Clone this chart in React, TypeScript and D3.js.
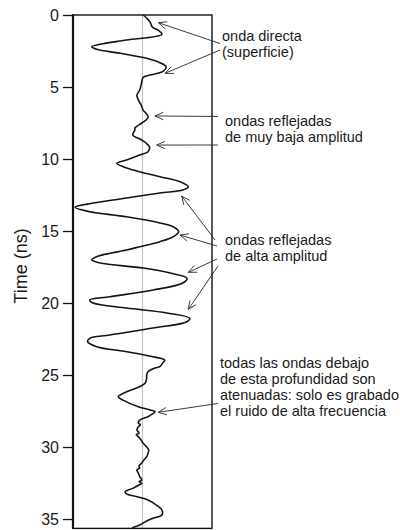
import React from "react";
import * as d3 from "d3";

// GPR trace: two-way travel time (ns) and relative amplitude
const TIME = [
  0.0, 0.21, 0.49, 0.83, 1.04, 1.34, 1.74, 2.03, 2.2, 2.38, 2.66, 3.01, 3.31, 3.59, 3.89, 4.17, 4.33, 4.63,
  5.21, 5.56, 5.9, 6.25, 6.6, 6.88, 7.08, 7.29, 7.5, 7.85, 7.99, 8.33, 8.68, 8.89, 9.15, 9.49, 9.72,
  10.07, 10.3, 10.53, 10.88, 11.23, 11.58, 11.92, 12.15, 12.36, 12.71, 13.06, 13.35, 13.66, 14.01, 14.44,
  14.7, 15.05, 15.4, 15.74, 16.09, 16.32, 16.78, 17.01, 17.22, 17.57, 17.92, 18.28, 18.61, 19.1, 19.56,
  19.79, 20.0, 20.35, 20.69, 21.06, 21.3, 21.74, 22.22, 22.45, 22.69, 23.03, 23.38, 23.73, 23.96, 24.17,
  24.42, 24.51, 24.77, 25.0, 25.21, 25.56, 25.81, 26.16, 26.51, 26.74, 27.2, 27.43, 27.55, 27.71, 27.9,
  28.13, 28.33, 28.46, 28.59, 28.82, 29.03, 29.15, 29.28, 29.51, 29.74, 30.0, 30.21, 30.42, 30.67, 30.9,
  31.11, 31.32, 31.46, 31.6, 31.81, 32.06, 32.29, 32.4, 32.52, 32.64, 32.87, 33.1, 33.26, 33.45, 33.68,
  34.03, 34.38, 34.72, 34.95, 35.19, 35.42, 35.6,
];
const AMPLITUDE = [
  1, 6, 11, 14, 22, 28, -23, -61, -73, -66, -32, 6, 25, 34, 30, 11, 1, -1,
  -4, -8, -6, -2, 1, 6, 8, 5, -1, -11, -11, -14, -1, 5, 10, 8, -4,
  -23, -37, -28, -4, 25, 54, 66, 58, 25, -23, -71, -97, -76, -23, 25,
  44, 52, 44, 25, -4, -23, -66, -73, -61, 1, 40, 64, 58, 15, -47,
  -76, -71, -23, 35, 68, 64, 15, -47, -76, -79, -66, -23, 15, 32, 29,
  25, 18, 8, 6, 6, 4, -4, -23, -35, -28, -6, 11, 18, 14, 8,
  -4, -6, -3, -6, -8, -5, -9, -6, -2, 1, 6, 9, 8, 6, 2,
  -1, -5, -4, -8, -6, -4, -1, -5, -1, -5, -14, -25, -23, -8, 8,
  20, 28, 28, 15, 4, -4, -15,
];

const TICKS = [0, 5, 10, 15, 20, 25, 30, 35];
const AXIS_TITLE = "Time (ns)";

// Callouts: label lines, and the trace points (time, amplitude) each arrow points to
const NOTE_LINES = [
  ["onda directa", "(superficie)"],
  ["ondas reflejadas", "de muy baja amplitud"],
  ["ondas reflejadas", "de alta amplitud"],
  [
    "todas las ondas debajo",
    "de esta profundidad son",
    "atenuadas: solo es grabado",
    "el ruido de alta frecuencia",
  ],
];
const NOTE_TARGET_TIME = [
  [0.53, 4.05],
  [7.01, 9.03],
  [12.57, 15.28, 17.87, 20.44],
  [27.59],
];
const NOTE_TARGET_AMP = [
  [22.7, 32.4],
  [18, 20.4],
  [56.4, 54, 65.9, 65.9],
  [22.7],
];

const W = 400;
const H = 530;
const FONT = "'Liberation Sans', Arial, Helvetica, sans-serif";

// text placement and arrow tails for each callout
const NOTE_X = [222, 225, 225, 220];
const NOTE_Y = [41, 126, 245, 368];
const NOTE_TAILS = [
  [[220, 43.5], [220, 50]],
  [[218, 116.5], [218, 145]],
  [[215, 240], [217, 246], [217, 259], [218, 266]],
  [[218, 403.5]],
];

function Arrow({ x1, y1, x2, y2 }: { x1: number; y1: number; x2: number; y2: number }) {
  const ang = Math.atan2(y2 - y1, x2 - x1);
  const len = 9;
  const spread = (24 * Math.PI) / 180;
  const a1 = ang + Math.PI - spread;
  const a2 = ang + Math.PI + spread;
  const head = `M${x2 + len * Math.cos(a1)},${y2 + len * Math.sin(a1)}L${x2},${y2}L${
    x2 + len * Math.cos(a2)
  },${y2 + len * Math.sin(a2)}`;
  return (
    <g stroke="#3a3a3a" strokeWidth={1} fill="none">
      <line x1={x1} y1={y1} x2={x2} y2={y2} />
      <path d={head} />
    </g>
  );
}

export default function App() {
  const left = 73;
  const right = 212;
  const top = 15;
  const bottom = 528.4;

  const y = d3.scaleLinear().domain([0, 35.65]).range([top, bottom]);
  const x = d3.scaleLinear().domain([-100, 100]).range([left, right]);

  const points: [number, number][] = TIME.map((t, i) => [t, AMPLITUDE[i]]);
  const trace = d3
    .line<[number, number]>()
    .x((d) => x(d[1]))
    .y((d) => y(d[0]))
    .curve(d3.curveCatmullRom.alpha(0.5))(points) as string;

  const axisRef = React.useRef<SVGGElement>(null);
  React.useEffect(() => {
    if (!axisRef.current) return;
    const g = d3.select(axisRef.current);
    g.call(
      d3
        .axisLeft(y)
        .tickValues(TICKS)
        .tickSize(10)
        .tickSizeOuter(0)
        .tickPadding(4)
        .tickFormat(d3.format("d"))
    );
    g.select(".domain").remove();
    g.selectAll(".tick line").attr("stroke", "#111").attr("stroke-width", 1.3);
    g.selectAll(".tick text")
      .attr("font-family", FONT)
      .attr("font-size", 16)
      .attr("fill", "#1a1a1a");
  }, []);

  return (
    <svg
      width={W}
      height={H}
      style={{ position: "absolute", left: 0, top: 0, background: "#fff" }}
    >
      {/* zero-amplitude reference */}
      <line x1={x(0)} x2={x(0)} y1={top} y2={bottom} stroke="#c4c4c4" strokeWidth={1.2} />

      {/* frame */}
      <rect x={left} y={top} width={right - left} height={bottom - top} fill="none" stroke="#111" strokeWidth={1.4} />
      <line x1={left} x2={left} y1={top - 0.7} y2={bottom + 0.7} stroke="#111" strokeWidth={2.2} />

      <g ref={axisRef} transform={`translate(${left},0)`} />

      <text
        transform={`translate(27,266) rotate(-90)`}
        textAnchor="middle"
        fontFamily={FONT}
        fontSize={18}
        fill="#1a1a1a"
      >
        {AXIS_TITLE}
      </text>

      <path d={trace} fill="none" stroke="#141414" strokeWidth={1.6} strokeLinejoin="round" />

      {NOTE_LINES.map((lines, gi) => (
        <g key={gi}>
          <text fontFamily={FONT} fontSize={14.5} fill="#1a1a1a">
            {lines.map((s, li) => (
              <tspan key={li} x={NOTE_X[gi]} y={NOTE_Y[gi] + li * 16}>
                {s}
              </tspan>
            ))}
          </text>
          {NOTE_TAILS[gi].map((tail, ai) => (
            <Arrow
              key={ai}
              x1={tail[0]}
              y1={tail[1]}
              x2={x(NOTE_TARGET_AMP[gi][ai])}
              y2={y(NOTE_TARGET_TIME[gi][ai])}
            />
          ))}
        </g>
      ))}
    </svg>
  );
}
